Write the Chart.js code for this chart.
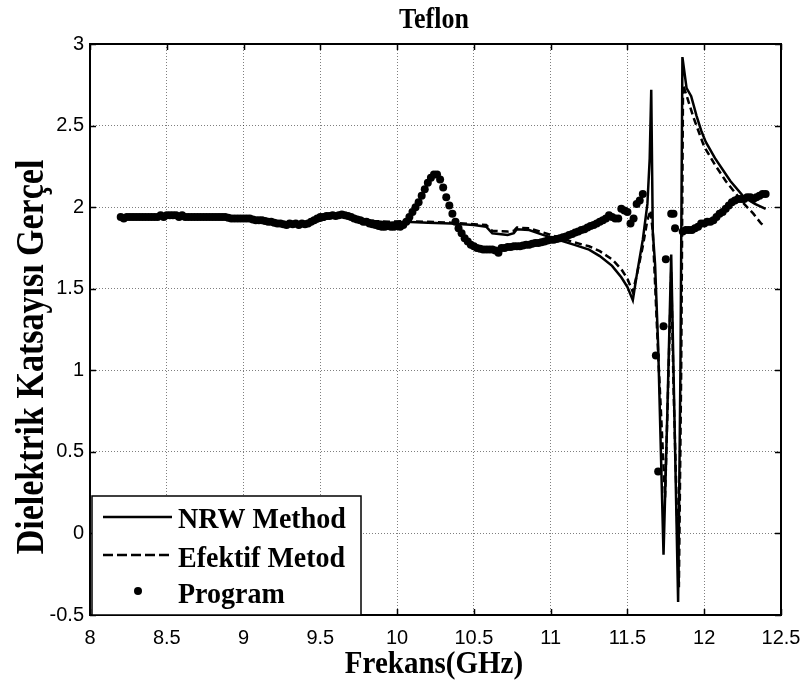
<!DOCTYPE html>
<html>
<head>
<meta charset="utf-8">
<script src="https://cdn.jsdelivr.net/npm/chart.js@4.4.0/dist/chart.umd.min.js"></script>
<style>
    html, body { margin: 0; padding: 0; background: #fff; }
    canvas { display: block; }
</style>
</head>
<body>
<canvas id="teflonChart" width="806" height="688"></canvas>
<script>
// Program (measured) points
const progFreq = [
    8.20, 8.22, 8.24, 8.26, 8.28, 8.30, 8.32, 8.34, 8.36, 8.38, 8.40, 8.42, 8.44, 8.46, 8.48,
    8.50, 8.52, 8.54, 8.56, 8.58, 8.60, 8.62, 8.64, 8.66, 8.68, 8.70, 8.72, 8.74, 8.76, 8.78,
    8.80, 8.82, 8.84, 8.86, 8.88, 8.90, 8.92, 8.94, 8.96, 8.98, 9.00, 9.02, 9.04, 9.06, 9.08,
    9.10, 9.12, 9.14, 9.16, 9.18, 9.20, 9.22, 9.24, 9.26, 9.28, 9.30, 9.32, 9.34, 9.36, 9.38,
    9.40, 9.42, 9.44, 9.46, 9.48, 9.50, 9.52, 9.54, 9.56, 9.58, 9.60, 9.62, 9.64, 9.66, 9.68,
    9.70, 9.72, 9.74, 9.76, 9.78, 9.80, 9.82, 9.84, 9.86, 9.88, 9.90, 9.92, 9.94, 9.96, 9.98,
    10.00, 10.02, 10.04, 10.06, 10.08, 10.10, 10.12, 10.14, 10.16, 10.18, 10.20, 10.22, 10.24, 10.26, 10.28,
    10.30, 10.32, 10.34, 10.36, 10.38, 10.40, 10.42, 10.44, 10.46, 10.48, 10.50, 10.52, 10.54, 10.56, 10.58,
    10.60, 10.62, 10.64, 10.66, 10.68, 10.70, 10.72, 10.74, 10.76, 10.78, 10.80, 10.82, 10.84, 10.86, 10.88,
    10.90, 10.92, 10.94, 10.96, 10.98, 11.00, 11.02, 11.04, 11.06, 11.08, 11.10, 11.12, 11.14, 11.16, 11.18,
    11.20, 11.22, 11.24, 11.26, 11.28, 11.30, 11.32, 11.34, 11.36, 11.38, 11.40, 11.42, 11.44, 11.46, 11.48,
    11.50, 11.52, 11.54, 11.56, 11.58, 11.60,
    11.685, 11.70, 11.735, 11.75, 11.785, 11.80, 11.81, 11.86,
    11.88, 11.90, 11.92, 11.94, 11.96, 11.98, 12.00, 12.02, 12.04, 12.06, 12.08, 12.10, 12.12, 12.14, 12.16,
    12.18, 12.20, 12.22, 12.24, 12.26, 12.28, 12.30, 12.32, 12.34, 12.36, 12.38, 12.40
];
const progEps = [
    1.94, 1.93, 1.94, 1.94, 1.94, 1.94, 1.94, 1.94, 1.94, 1.94, 1.94, 1.94, 1.94, 1.95, 1.94,
    1.95, 1.95, 1.95, 1.95, 1.94, 1.95, 1.94, 1.94, 1.94, 1.94, 1.94, 1.94, 1.94, 1.94, 1.94,
    1.94, 1.94, 1.94, 1.94, 1.94, 1.935, 1.93, 1.93, 1.93, 1.93, 1.93, 1.93, 1.93, 1.925, 1.92,
    1.92, 1.92, 1.915, 1.91, 1.91, 1.905, 1.90, 1.90, 1.895, 1.89, 1.90, 1.895, 1.90, 1.89, 1.90,
    1.895, 1.90, 1.91, 1.92, 1.93, 1.94, 1.94, 1.945, 1.945, 1.95, 1.945, 1.95, 1.955, 1.95, 1.945,
    1.94, 1.93, 1.925, 1.92, 1.91, 1.91, 1.90, 1.895, 1.89, 1.885, 1.88, 1.88, 1.885, 1.88, 1.88,
    1.885, 1.88, 1.89, 1.91, 1.94, 1.97, 2.00, 2.03, 2.07, 2.11, 2.15, 2.18, 2.20, 2.20, 2.17,
    2.12, 2.06, 2.01, 1.96, 1.91, 1.87, 1.84, 1.81, 1.79, 1.77, 1.76, 1.75, 1.745, 1.74, 1.74,
    1.74, 1.74, 1.735, 1.72, 1.75, 1.75, 1.755, 1.755, 1.76, 1.76, 1.76, 1.765, 1.77, 1.77, 1.775,
    1.78, 1.78, 1.785, 1.79, 1.795, 1.80, 1.80, 1.805, 1.81, 1.815, 1.82, 1.83, 1.835, 1.845, 1.85,
    1.86, 1.865, 1.875, 1.885, 1.89, 1.90, 1.91, 1.92, 1.93, 1.95, 1.94, 1.93, 1.93, 1.99, 1.98,
    1.97, 1.90, 1.93, 2.02, 2.04, 2.08,
    1.09, 0.38, 1.27, 1.68, 1.96, 1.96, 1.87, 1.85,
    1.86, 1.86, 1.86, 1.87, 1.88, 1.90, 1.90, 1.91, 1.91, 1.92, 1.94, 1.96, 1.97, 1.99, 2.01,
    2.03, 2.04, 2.05, 2.05, 2.05, 2.06, 2.06, 2.05, 2.06, 2.07, 2.08, 2.08
];

// NRW method (solid line)
const nrwFreq = [
    8.2, 8.5, 8.9, 9.1, 9.25, 9.45, 9.6, 9.7, 9.85, 9.95, 10.05, 10.2, 10.35, 10.5, 10.58,
    10.62, 10.72, 10.76, 10.78, 10.86, 10.95, 11.05, 11.15, 11.25, 11.32, 11.4, 11.46, 11.5, 11.535, 11.56,
    11.6, 11.63, 11.645, 11.655, 11.665, 11.68, 11.7, 11.735, 11.76, 11.785, 11.8, 11.83, 11.845, 11.858, 11.885,
    11.915, 11.95, 11.98, 12.01, 12.07, 12.17, 12.26, 12.33, 12.4
];
const nrwEps = [
    1.94, 1.945, 1.935, 1.92, 1.90, 1.905, 1.945, 1.94, 1.915, 1.905, 1.91, 1.905, 1.90, 1.89, 1.88,
    1.84, 1.83, 1.84, 1.865, 1.86, 1.83, 1.80, 1.77, 1.74, 1.70, 1.64, 1.57, 1.51, 1.43, 1.58,
    1.80, 2.02, 2.30, 2.72, 1.85, 1.65, 1.15, -0.13, 0.75, 1.71, 1.0, -0.42, 1.0, 2.92, 2.73,
    2.68, 2.56, 2.47, 2.40, 2.30, 2.16, 2.06, 2.02, 1.99
];

// Efektif metod (dashed line)
const efFreq = [
    8.2, 8.5, 8.9, 9.1, 9.25, 9.45, 9.6, 9.7, 9.85, 9.95, 10.05, 10.2, 10.35, 10.5, 10.58,
    10.62, 10.72, 10.76, 10.78, 10.86, 10.95, 11.05, 11.15, 11.25, 11.32, 11.4, 11.46, 11.5, 11.535, 11.56,
    11.6, 11.63, 11.65, 11.665, 11.7, 11.745, 11.765, 11.785, 11.8, 11.835, 11.85, 11.862, 11.89, 11.93,
    12.0, 12.07, 12.14, 12.2, 12.26, 12.32, 12.37, 12.4
];
const efEps = [
    1.94, 1.945, 1.935, 1.92, 1.90, 1.905, 1.945, 1.94, 1.915, 1.91, 1.915, 1.91, 1.905, 1.895, 1.89,
    1.855, 1.85, 1.855, 1.875, 1.87, 1.845, 1.815, 1.785, 1.76, 1.73, 1.68, 1.62, 1.56, 1.48, 1.58,
    1.76, 1.92, 1.98, 1.85, 1.10, 0.22, 0.90, 1.60, 0.90, -0.33, 1.0, 2.75, 2.67, 2.55,
    2.37, 2.26, 2.16, 2.09, 2.02, 1.96, 1.90, 1.88
];

const xTicks = [8, 8.5, 9, 9.5, 10, 10.5, 11, 11.5, 12, 12.5];
const yTicks = [-0.5, 0, 0.5, 1, 1.5, 2, 2.5, 3];

const legendItems = ['NRW Method', 'Efektif Metod', 'Program'];
const titleText = 'Teflon';
const xTitle = 'Frekans(GHz)';
const yTitle = 'Dielektrik Katsayısı Gerçel';

function toPoints(xs, ys) {
    return xs.map(function (x, i) { return { x: x, y: ys[i] }; });
}

// text is a bit taller than normal in the original, so stretch it vertically
function stretchedText(ctx, text, x, y, font, sy, rotate) {
    ctx.save();
    ctx.translate(x, y);
    if (rotate) ctx.rotate(rotate);
    ctx.scale(1, sy);
    ctx.font = font;
    ctx.fillStyle = '#000';
    ctx.textBaseline = 'alphabetic';
    ctx.fillText(text, 0, 0);
    ctx.restore();
}

const serif = '"Liberation Serif", "Times New Roman", serif';

const framePlugin = {
    id: 'frame',
    afterDraw: function (chart) {
        const ctx = chart.ctx;
        const area = chart.chartArea;
        const xs = chart.scales.x;
        const ys = chart.scales.y;
        const tl = 6;

        ctx.save();
        ctx.strokeStyle = '#000';
        ctx.lineWidth = 1.5;
        ctx.beginPath();
        xTicks.forEach(function (v) {
            const px = Math.round(xs.getPixelForValue(v)) + 0.5;
            ctx.moveTo(px, area.bottom); ctx.lineTo(px, area.bottom - tl);
            ctx.moveTo(px, area.top); ctx.lineTo(px, area.top + tl);
        });
        yTicks.forEach(function (v) {
            const py = Math.round(ys.getPixelForValue(v)) + 0.5;
            ctx.moveTo(area.left, py); ctx.lineTo(area.left + tl, py);
            ctx.moveTo(area.right, py); ctx.lineTo(area.right - tl, py);
        });
        ctx.stroke();
        ctx.lineWidth = 2;
        ctx.strokeRect(area.left, area.top, area.right - area.left, area.bottom - area.top);

        // legend box, lower left inside the axes
        const lx = 92, ly = 496, lw = 269, lh = area.bottom - 496;
        ctx.fillStyle = '#fff';
        ctx.fillRect(lx, ly, lw, lh);
        ctx.lineWidth = 1.5;
        ctx.strokeRect(lx, ly, lw, lh);

        ctx.lineWidth = 2.5;
        ctx.beginPath();
        ctx.moveTo(103, 517); ctx.lineTo(172, 517);
        ctx.stroke();
        ctx.setLineDash([10, 4]);
        ctx.beginPath();
        ctx.moveTo(103, 555); ctx.lineTo(172, 555);
        ctx.stroke();
        ctx.setLineDash([]);
        ctx.fillStyle = '#000';
        ctx.beginPath();
        ctx.arc(138, 591, 4, 0, Math.PI * 2);
        ctx.fill();

        ctx.textAlign = 'left';
        stretchedText(ctx, legendItems[0], 178, 528, 'bold 28px ' + serif, 1.08);
        stretchedText(ctx, legendItems[1], 178, 567, 'bold 28px ' + serif, 1.08);
        stretchedText(ctx, legendItems[2], 178, 603, 'bold 28px ' + serif, 1.08);

        ctx.textAlign = 'center';
        stretchedText(ctx, titleText, 434, 28, 'bold 26px ' + serif, 1.12);
        stretchedText(ctx, xTitle, 434, 673, 'bold 29px ' + serif, 1.1);
        stretchedText(ctx, yTitle, 43, 357, 'bold 34px ' + serif, 1.2, -Math.PI / 2);
        ctx.restore();
    }
};

const tickFont = { family: 'Arial, "Liberation Sans", sans-serif', size: 20 };

new Chart(document.getElementById('teflonChart').getContext('2d'), {
    type: 'scatter',
    data: {
        datasets: [{
            label: legendItems[2],
            data: toPoints(progFreq, progEps),
            showLine: false,
            pointRadius: 4,
            pointBorderWidth: 0,
            pointBackgroundColor: '#000',
            order: 0
        }, {
            label: legendItems[1],
            data: toPoints(efFreq, efEps),
            showLine: true,
            borderColor: '#000',
            borderWidth: 2.5,
            borderDash: [7, 4],
            pointRadius: 0,
            tension: 0,
            order: 1
        }, {
            label: legendItems[0],
            data: toPoints(nrwFreq, nrwEps),
            showLine: true,
            borderColor: '#000',
            borderWidth: 2.5,
            pointRadius: 0,
            tension: 0,
            order: 2
        }]
    },
    options: {
        responsive: false,
        animation: false,
        devicePixelRatio: 1,
        layout: { padding: { top: 44, right: 25, left: 0, bottom: 0 } },
        plugins: {
            legend: { display: false },
            title: { display: false },
            tooltip: { enabled: false }
        },
        scales: {
            x: {
                type: 'linear',
                min: 8,
                max: 12.5,
                afterBuildTicks: function (scale) {
                    scale.ticks = xTicks.map(function (v) { return { value: v }; });
                },
                afterFit: function (scale) {
                    scale.height = 73;
                    scale.paddingLeft = 0;
                    scale.paddingRight = 0;
                },
                ticks: {
                    color: '#000',
                    font: tickFont,
                    padding: 11,
                    maxRotation: 0,
                    callback: function (v) { return String(v); }
                },
                grid: { color: 'rgba(0,0,0,0.5)', lineWidth: 1, drawTicks: false },
                border: { display: false, dash: [1, 2] }
            },
            y: {
                type: 'linear',
                min: -0.5,
                max: 3,
                afterBuildTicks: function (scale) {
                    scale.ticks = yTicks.map(function (v) { return { value: v }; });
                },
                afterFit: function (scale) {
                    scale.width = 90;
                    scale.paddingTop = 0;
                    scale.paddingBottom = 0;
                },
                ticks: {
                    color: '#000',
                    font: tickFont,
                    padding: 6,
                    callback: function (v) { return String(v); }
                },
                grid: { color: 'rgba(0,0,0,0.5)', lineWidth: 1, drawTicks: false },
                border: { display: false, dash: [1, 2] }
            }
        }
    },
    plugins: [framePlugin]
});
</script>
</body>
</html>
